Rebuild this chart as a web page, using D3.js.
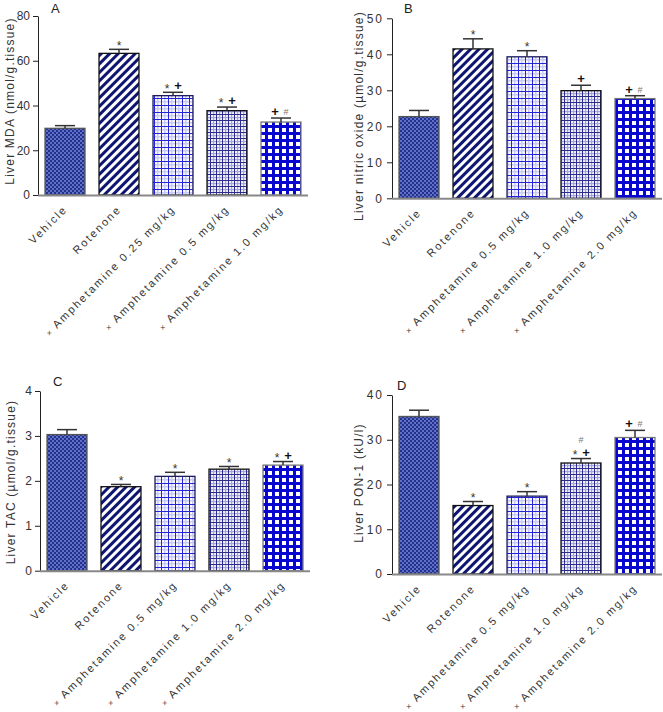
<!DOCTYPE html>
<html><head><meta charset="utf-8">
<script src="https://cdn.jsdelivr.net/npm/d3@7"></script>
<style>
body{margin:0;background:#fff}
svg{display:block}
text{font-family:"Liberation Sans",Arial,sans-serif}
</style>
</head><body>
<svg id="chart" width="663" height="712"></svg>
<script>
// ---- data ----
const categoriesA = ["Vehicle","Rotenone","Amphetamine 0.25 mg/kg","Amphetamine 0.5 mg/kg","Amphetamine 1.0 mg/kg"];
const categoriesBCD = ["Vehicle","Rotenone","Amphetamine 0.5 mg/kg","Amphetamine 1.0 mg/kg","Amphetamine 2.0 mg/kg"];
const mdaValues = [29.8, 63.3, 44.4, 37.7, 32.6];
const mdaErrors = [1.2, 1.8, 1.5, 1.6, 1.8];
const noValues  = [22.7, 41.5, 39.3, 29.9, 27.7];
const noErrors  = [1.7, 2.8, 1.7, 1.5, 0.8];
const tacValues = [3.03, 1.87, 2.10, 2.26, 2.35];
const tacErrors = [0.11, 0.05, 0.09, 0.06, 0.08];
const ponValues = [35.2, 15.3, 17.4, 24.8, 30.5];
const ponErrors = [1.4, 0.9, 1.0, 1.0, 1.6];
const mdaTicks = [0, 20, 40, 60, 80];
const noTicks  = [0, 10, 20, 30, 40, 50];
const tacTicks = [0, 1, 2, 3, 4];
const ponTicks = [0, 10, 20, 30, 40];
const mdaMarks = [[], ["*"], ["* +"], ["* +"], ["+ #"]];
const noMarks  = [[], ["*"], ["*"], ["+"], ["+ #"]];
const tacMarks = [[], ["*"], ["*"], ["*"], ["* +"]];
const ponMarks = [[], ["*"], ["*"], ["* +", "#"], ["+ #"]];
const panelLetters = ["A", "B", "C", "D"];
const axisTitles = ["Liver MDA (nmol/g.tissue)", "Liver nitric oxide (\u00b5mol/g.tissue)", "Liver TAC (\u00b5mol/g.tissue)", "Liver PON-1 (kU/l)"];

// ---- layout / style ----
const svg = d3.select("#chart");
const defs = svg.append("defs");

function pat(id, w, h, build, transform) {
  const p = defs.append("pattern").attr("id", id).attr("patternUnits", "userSpaceOnUse")
    .attr("width", w).attr("height", h);
  if (transform) p.attr("patternTransform", transform);
  build(p);
}
pat("pVeh", 4, 4, p => {
  p.append("rect").attr("width", 4).attr("height", 4).attr("fill", "#22308e");
  p.append("rect").attr("x", 0).attr("y", 0).attr("width", 2).attr("height", 2).attr("fill", "#5f70c6");
  p.append("rect").attr("x", 2).attr("y", 2).attr("width", 2).attr("height", 2).attr("fill", "#5f70c6");
});
pat("pRot", 6, 6, p => {
  p.append("rect").attr("width", 6).attr("height", 6).attr("fill", "#fff");
  p.append("rect").attr("width", 3).attr("height", 6).attr("fill", "#0e1672");
}, "rotate(45)");
pat("pG1", 7, 7, p => {
  p.append("rect").attr("width", 7).attr("height", 7).attr("fill", "#f8f8fd");
  p.append("rect").attr("x", 3).attr("width", 1.5).attr("height", 7).attr("fill", "#cacaf2");
  p.append("rect").attr("y", 3).attr("width", 7).attr("height", 1.5).attr("fill", "#cacaf2");
  p.append("rect").attr("x", 0).attr("width", 1).attr("height", 7).attr("fill", "#2424d8");
  p.append("rect").attr("y", 0).attr("width", 7).attr("height", 1).attr("fill", "#2424d8");
});
pat("pG2", 6, 6, p => {
  p.append("rect").attr("width", 6).attr("height", 6).attr("fill", "#f3f3fa");
  p.append("rect").attr("x", 3).attr("width", 1.2).attr("height", 6).attr("fill", "#a4a4d8");
  p.append("rect").attr("y", 3).attr("width", 6).attr("height", 1.2).attr("fill", "#a4a4d8");
  p.append("rect").attr("x", 0).attr("width", 1).attr("height", 6).attr("fill", "#2c2c90");
  p.append("rect").attr("y", 0).attr("width", 6).attr("height", 1).attr("fill", "#2c2c90");
});
pat("pG3", 7, 7, p => {
  p.append("rect").attr("width", 7).attr("height", 7).attr("fill", "#0707cf");
  p.append("rect").attr("x", 2).attr("y", 2).attr("width", 4).attr("height", 4).attr("fill", "#fff");
});
const fills = ["url(#pVeh)", "url(#pRot)", "url(#pG1)", "url(#pG2)", "url(#pG3)"];
const strokes = ["#555", "#111", "#1c1c5c", "#111", "#777"];

const panels = [
  {cats: categoriesA, vals: mdaValues, errs: mdaErrors, ticks: mdaTicks, marks: mdaMarks,
   x0: 38, x1: 308, y0: 195, y1: 16, lx: 51, ly: 13, tx: 14, tcy: 101, tickLS: 0},
  {cats: categoriesBCD, vals: noValues, errs: noErrors, ticks: noTicks, marks: noMarks,
   x0: 392, x1: 662, y0: 198.3, y1: 18.3, lx: 404, ly: 13, tx: 363, tcy: 116, tickLS: 2},
  {cats: categoriesBCD, vals: tacValues, errs: tacErrors, ticks: tacTicks, marks: tacMarks,
   x0: 40, x1: 310, y0: 570.7, y1: 391, lx: 53, ly: 386, tx: 15, tcy: 482, tickLS: 0},
  {cats: categoriesBCD, vals: ponValues, errs: ponErrors, ticks: ponTicks, marks: ponMarks,
   x0: 392, x1: 662, y0: 574, y1: 395, lx: 397, ly: 390, tx: 363, tcy: 483, tickLS: 2}
];

panels.forEach((P, pi) => {
  const g = svg.append("g");
  const x = d3.scaleBand().domain(P.cats).range([P.x0, P.x1]).paddingInner(0.26).paddingOuter(0.13);
  const y = d3.scaleLinear().domain([0, d3.max(P.ticks)]).range([P.y0, P.y1]);
  const data = P.cats.map((c, i) => ({c, v: P.vals[i], e: P.errs[i], m: P.marks[i], i}));

  // bars
  g.selectAll("rect.bar").data(data).join("rect").attr("class", "bar")
    .attr("x", d => x(d.c)).attr("width", x.bandwidth())
    .attr("y", d => y(d.v)).attr("height", d => y(0) - y(d.v))
    .attr("fill", d => fills[d.i]).attr("stroke", d => strokes[d.i]).attr("stroke-width", 1.3);

  // error bars (upper whisker)
  const eb = g.selectAll("g.eb").data(data).join("g").attr("class", "eb")
    .attr("stroke", "#333").attr("stroke-width", 1.5);
  eb.append("line").attr("x1", d => x(d.c) + x.bandwidth() / 2).attr("x2", d => x(d.c) + x.bandwidth() / 2)
    .attr("y1", d => y(d.v)).attr("y2", d => y(d.v + d.e));
  eb.append("line").attr("x1", d => x(d.c) + x.bandwidth() / 2 - 10).attr("x2", d => x(d.c) + x.bandwidth() / 2 + 10)
    .attr("y1", d => y(d.v + d.e)).attr("y2", d => y(d.v + d.e));

  // significance marks
  data.forEach(d => {
    const cx = x(d.c) + x.bandwidth() / 2;
    d.m.forEach((line, li) => {
      const cy = y(d.v + d.e) - 6.5 - li * 12;
      const toks = line.split(" ");
      toks.forEach((t, ti) => {
        const dx = toks.length === 1 ? 0 : (ti === 0 ? -6 : 5);
        let fs, off, fw = "normal", col = "#333";
        if (t === "*") { fs = 12; off = 6.8; }
        else if (t === "+") { fs = 13; off = 4.5; fw = "bold"; col = "#111"; }
        else { fs = 9; off = 3.3; col = "#777"; }
        g.append("text").attr("x", cx + dx).attr("y", cy + off).attr("text-anchor", "middle")
          .attr("font-size", fs).attr("font-weight", fw).attr("fill", col).text(t);
      });
    });
  });

  // y axis
  const ya = g.append("g").attr("transform", `translate(${P.x0},0)`)
    .call(d3.axisLeft(y).tickValues(P.ticks).tickSize(5).tickSizeOuter(0).tickPadding(3).tickFormat(d3.format("d")));
  ya.select(".domain").attr("stroke", "#222").attr("stroke-width", 1);
  ya.selectAll(".tick line").attr("stroke", "#222");
  ya.selectAll(".tick text").attr("font-size", 12).attr("fill", "#333").attr("letter-spacing", P.tickLS)
    .style("font-family", '"Liberation Sans",Arial,sans-serif');

  // x axis line
  g.append("line").attr("x1", P.x0).attr("x2", P.x1).attr("y1", P.y0 + 0.5).attr("y2", P.y0 + 0.5)
    .attr("stroke", "#888").attr("stroke-width", 2);

  // x labels
  data.forEach(d => {
    const ax = x(d.c) + x.bandwidth() / 2 + 3, ay = P.y0 + 15;
    const t = g.append("text").attr("transform", `translate(${ax},${ay}) rotate(-45)`)
      .attr("text-anchor", "end").attr("font-size", 11).attr("fill", "#333").attr("letter-spacing", 1.95);
    if (d.i >= 2) {
      t.append("tspan").attr("font-size", 8).text("\u00d7 ");
    }
    t.append("tspan").text(d.c);
  });

  // y title
  g.append("text").attr("transform", `translate(${P.tx},${P.tcy}) rotate(-90)`)
    .attr("text-anchor", "middle").attr("font-size", 12).attr("fill", "#333").attr("letter-spacing", 1.2)
    .text(axisTitles[pi]);

  // panel letter
  g.append("text").attr("x", P.lx).attr("y", P.ly).attr("font-size", 13).attr("fill", "#222").text(panelLetters[pi]);
});
</script>
</body></html>
